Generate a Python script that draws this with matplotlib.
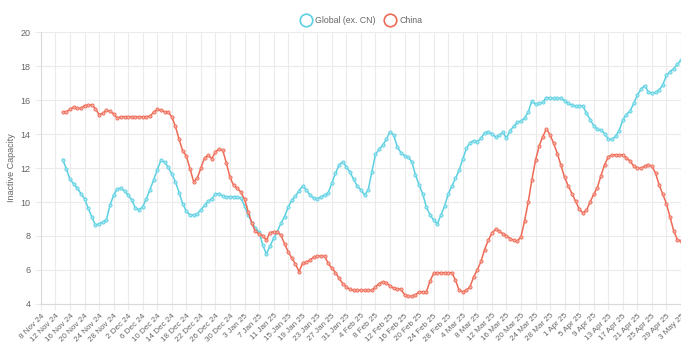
import matplotlib
matplotlib.use("Agg")
import matplotlib.pyplot as plt
import pandas as pd
from matplotlib.lines import Line2D

plt.rcParams['font.family'] = ['Liberation Sans', 'DejaVu Sans']

# daily data, 14 Nov 24 .. 3 May 25
dates = pd.date_range('2024-11-14', '2025-05-03', freq='D')

global_ex_cn = [
    12.5, 11.95, 11.35, 11.07, 10.82, 10.5, 10.2, 9.65, 9.12, 8.65,
    8.72, 8.82, 8.94, 9.8, 10.4, 10.78, 10.8, 10.65, 10.4, 10.12,
    9.65, 9.55, 9.72, 10.2, 10.72, 11.3, 11.9, 12.45, 12.35, 12.05,
    11.65, 11.2, 10.55, 9.9, 9.45, 9.25, 9.24, 9.3, 9.55, 9.8,
    10.05, 10.2, 10.45, 10.5, 10.35, 10.31, 10.31, 10.31, 10.28, 10.25,
    9.76, 9.24, 8.79, 8.45, 8.25, 7.47, 6.94, 7.41, 7.86, 8.25,
    8.75, 9.14, 9.69, 10.12, 10.35, 10.67, 10.94, 10.71, 10.41, 10.22,
    10.2, 10.31, 10.41, 10.55, 11.1, 11.69, 12.18, 12.37, 12.06, 11.76,
    11.33, 10.94, 10.71, 10.41, 10.71, 11.78, 12.8, 13.1, 13.35, 13.69,
    14.14, 13.94, 13.25, 12.9, 12.73, 12.63, 12.37, 11.59, 11.0, 10.47,
    9.69, 9.24, 8.94, 8.71, 9.24, 9.76, 10.47, 10.94, 11.39, 11.88,
    12.51, 13.16, 13.49, 13.61, 13.55, 13.75, 14.08, 14.14, 14.02, 13.82,
    13.92, 14.1, 13.75, 14.2, 14.45, 14.68, 14.76, 14.95, 15.3, 15.95,
    15.75, 15.8, 15.88, 16.15, 16.12, 16.1, 16.1, 16.1, 15.97, 15.8,
    15.72, 15.65, 15.68, 15.64, 15.25, 14.85, 14.5, 14.28, 14.24, 14.02,
    13.7, 13.68, 13.88, 14.2, 14.84, 15.15, 15.36, 15.8, 16.28, 16.65,
    16.85, 16.5, 16.4, 16.45, 16.6, 16.9, 17.45, 17.68, 17.85, 18.12,
    18.33,
]

china = [
    15.31, 15.31, 15.45, 15.6, 15.51, 15.51, 15.68, 15.71, 15.71, 15.5,
    15.15, 15.22, 15.4, 15.33, 15.2, 14.95, 15.02, 15.02, 15.02, 15.02,
    15.02, 15.02, 15.02, 15.02, 15.05, 15.28, 15.45, 15.4, 15.31, 15.31,
    15.0, 14.45, 13.7, 13.0, 12.72, 11.95, 11.2, 11.4, 12.0, 12.6,
    12.75, 12.55, 12.95, 13.12, 13.05, 12.3, 11.45, 10.98, 10.8, 10.59,
    10.16, 9.43, 8.75, 8.27, 8.12, 8.02, 7.75, 8.2, 8.25, 8.22,
    8.06, 7.53, 7.08, 6.69, 6.35, 5.9, 6.43, 6.45, 6.6, 6.75,
    6.82, 6.82, 6.82, 6.39, 6.1, 5.85, 5.5, 5.2, 5.02, 4.85,
    4.8, 4.8, 4.8, 4.8, 4.8, 4.8, 5.0, 5.2, 5.31, 5.25,
    5.05, 4.92, 4.9, 4.85, 4.55, 4.45, 4.45, 4.55, 4.7, 4.72,
    4.72, 5.35, 5.8, 5.84, 5.84, 5.84, 5.84, 5.84, 5.4, 4.8,
    4.72, 4.8, 5.02, 5.6, 6.0, 6.5, 7.2, 7.75, 8.15, 8.4,
    8.28, 8.14, 8.02, 7.85, 7.74, 7.7, 7.95, 8.9, 10.0, 11.3,
    12.45, 13.3, 13.85, 14.3, 13.95, 13.45, 12.85, 12.15, 11.45, 10.95,
    10.5, 10.05, 9.6, 9.36, 9.5, 10.0, 10.45, 10.85, 11.55, 12.2,
    12.65, 12.78, 12.78, 12.78, 12.78, 12.6, 12.4, 12.12, 12.0, 11.98,
    12.12, 12.2, 12.1, 11.7, 11.0, 10.45, 9.9, 9.1, 8.3, 7.78,
    7.72,
]

tick_dates = pd.date_range('2024-11-08', '2025-05-03', freq='4D')
tick_labels = [f"{d.day} {d.strftime('%b %y')}" for d in tick_dates]

cyan = '#5bd0e3'
red = '#ee6a55'
grid_c = '#ebebeb'
txt_c = '#666666'

fig = plt.figure(figsize=(6.81, 3.53), dpi=100)
ax = fig.add_axes([0.060, 0.139, 0.940, 0.770])

ax.plot(dates, global_ex_cn, color=cyan, lw=1.1, marker='o', ms=2.3,
        mfc='#a8e6f0', mec=cyan, mew=0.6, zorder=3)
ax.plot(dates, china, color=red, lw=1.1, marker='o', ms=2.3,
        mfc='#f6ada2', mec=red, mew=0.6, zorder=3)

ax.set_xlim(pd.Timestamp('2024-11-08'), pd.Timestamp('2025-05-03'))
ax.set_ylim(4, 20)
ax.set_yticks(range(4, 21, 2))
ax.set_xticks(tick_dates)
ax.set_xticklabels(tick_labels, rotation=45, ha='right', rotation_mode='anchor',
                   fontsize=5.8, color=txt_c)
ax.tick_params(axis='y', labelsize=6.5, labelcolor=txt_c, length=4, color=grid_c)
ax.tick_params(axis='x', length=4, color=grid_c, pad=2)

ax.grid(True, color=grid_c, lw=0.8)
ax.set_axisbelow(True)
for s in ['top', 'right']:
    ax.spines[s].set_visible(False)
for s in ['left', 'bottom']:
    ax.spines[s].set_color('#d9d9d9')

ax.set_ylabel('Inactive Capacity', fontsize=6.5, color=txt_c, labelpad=3)

handles = [
    Line2D([], [], ls='none', marker='o', ms=9, mfc='none', mec=cyan, mew=1.2),
    Line2D([], [], ls='none', marker='o', ms=9, mfc='none', mec=red, mew=1.2),
]
fig.legend(handles, ['Global (ex. CN)', 'China'], loc='center',
           bbox_to_anchor=(0.528, 0.943), ncol=2, frameon=False, fontsize=6.3,
           handletextpad=0.1, columnspacing=0.6, labelcolor=txt_c)

fig.savefig('out.png', dpi=100)
